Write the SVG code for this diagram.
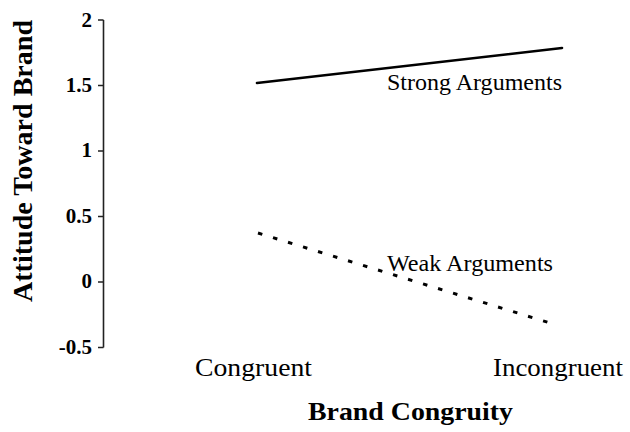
<svg xmlns="http://www.w3.org/2000/svg" width="630" height="432" viewBox="0 0 630 432">
<style>
.serif{font-family:"Liberation Serif","Times New Roman",serif;fill:#000}
.b{font-weight:bold}
.tick{font-size:21px;text-anchor:end}
.axis{stroke:#222;stroke-width:1.6;fill:none}
</style>
<rect width="630" height="432" fill="#fff"/>
<g id="y-axis">
<path class="axis" d="M103.5 20V347.5M98 20H103.5M98 85.5H103.5M98 151H103.5M98 216.5H103.5M98 282H103.5M98 347.5H103.5"/>
<text class="serif b tick" x="92" y="27">2</text>
<text class="serif b tick" x="92" y="92">1.5</text>
<text class="serif b tick" x="92" y="157">1</text>
<text class="serif b tick" x="92" y="223">0.5</text>
<text class="serif b tick" x="92" y="288">0</text>
<text class="serif b tick" x="92" y="354">-0.5</text>
<text class="serif b" font-size="27" text-anchor="middle" transform="translate(32,161) rotate(-90)" textLength="282" lengthAdjust="spacingAndGlyphs">Attitude Toward Brand</text>
</g>
<g id="x-axis">
<text class="serif" font-size="25" x="195" y="376" textLength="117" lengthAdjust="spacingAndGlyphs">Congruent</text>
<text class="serif" font-size="25" x="493" y="376" textLength="130" lengthAdjust="spacingAndGlyphs">Incongruent</text>
<text class="serif b" font-size="25" x="308" y="420" textLength="205" lengthAdjust="spacingAndGlyphs">Brand Congruity</text>
</g>
<g id="connectors">
<line id="strong-line" x1="257" y1="83" x2="562" y2="48" stroke="#000" stroke-width="2.6" stroke-linecap="round"/>
<line id="weak-line" x1="258" y1="233" x2="550" y2="323" stroke="#000" stroke-width="3" stroke-dasharray="4.5 11.2"/>
</g>
<g id="strong-label">
<text class="serif" font-size="23" x="387" y="90" textLength="175" lengthAdjust="spacingAndGlyphs">Strong Arguments</text>
</g>
<g id="weak-label">
<text class="serif" font-size="24" x="387" y="271" textLength="166" lengthAdjust="spacingAndGlyphs">Weak Arguments</text>
</g>
</svg>
